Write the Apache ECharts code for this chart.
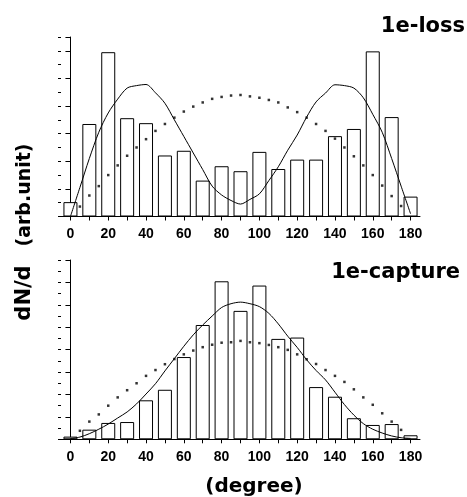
<!DOCTYPE html>
<html>
<head>
<meta charset="utf-8">
<script src="https://cdn.jsdelivr.net/npm/echarts@6/dist/echarts.min.js"></script>
<style>
html,body{margin:0;padding:0;background:#fff;}
#chart{width:467px;height:497px;}
</style>
</head>
<body>
<div id="chart"></div>
<script>
// Histogram bin centres (degree)
const binCenters = [0,10,20,30,40,50,60,70,80,90,100,110,120,130,140,150,160,170,180];
// Tick labels
const xTickLabels = [0,20,40,60,80,100,120,140,160,180];
const xTicks = [0,10,20,30,40,50,60,70,80,90,100,110,120,130,140,150,160,170,180];

// 1e-loss histogram (arb. unit)
const lossBars = [0.52,3.35,5.95,3.56,3.38,2.21,2.38,1.30,1.82,1.64,2.34,1.72,2.06,2.06,2.91,3.17,5.98,3.60,0.72];
// 1e-capture histogram
const captureBars = [0.12,0.43,0.73,0.77,1.74,2.21,3.67,5.10,7.05,5.73,6.86,4.48,4.54,2.33,1.90,0.94,0.64,0.68,0.18];

// Curve sample angles
const curveAngles = [0,5,10,15,20,25,30,35,40,45,50,55,60,65,70,75,80,85,90,95,100,105,110,115,120,125,130,135,140,145,150,155,160,165,170,175,180];
const lossSolid = [0,1.05,2.1,3.05,3.75,4.25,4.65,4.74,4.78,4.48,4.1,3.5,2.9,2.3,1.7,1.1,0.78,0.58,0.45,0.62,0.82,1.3,1.8,2.4,2.95,3.6,4.15,4.47,4.77,4.74,4.65,4.3,3.7,3.05,2.1,1.1,0.1];
const captureSolid = [0.03,0.1,0.25,0.45,0.68,0.95,1.22,1.58,2.02,2.48,3.05,3.6,4.15,4.66,5.1,5.5,5.88,6.05,6.12,6.05,5.92,5.62,5.15,4.6,4.1,3.55,3.07,2.65,2.1,1.55,1.08,0.7,0.45,0.28,0.15,0.07,0.04];

// Dotted curve sample angles
const dotAngles = [5,10,15,20,25,30,35,40,45,50,55,60,65,70,75,80,85,90,95,100,105,110,115,120,125,130,135,140,145,150,155,160,165,170,175];
const lossDots = [0.36,0.76,1.1,1.5,1.85,2.2,2.5,2.8,3.1,3.35,3.58,3.8,3.98,4.13,4.26,4.33,4.38,4.4,4.35,4.3,4.22,4.13,3.95,3.78,3.58,3.35,3.1,2.82,2.5,2.18,1.85,1.5,1.12,0.74,0.38];
const captureDots = [0.38,0.79,1.11,1.5,1.87,2.19,2.5,2.83,3.09,3.35,3.58,3.79,3.96,4.11,4.22,4.31,4.33,4.39,4.33,4.29,4.21,4.11,3.99,3.79,3.57,3.36,3.09,2.83,2.56,2.23,1.87,1.54,1.16,0.79,0.42];

const pair = (xs, ys) => xs.map((x, i) => [x, ys[i]]);

const chart = echarts.init(document.getElementById('chart'), null, {renderer: 'canvas'});

function xAxisFor(gi) {
  return {
    type: 'value', gridIndex: gi, min: -5, max: 185,
    axisLine: {show: true, lineStyle: {color: '#000', width: 1}},
    axisTick: {show: true, customValues: xTicks, length: 4, lineStyle: {color: '#000'}},
    axisLabel: {show: true, customValues: xTickLabels, margin: 11, color: '#000',
      fontFamily: 'Liberation Sans', fontWeight: 'bold', fontSize: 14},
    splitLine: {show: false}
  };
}
function yAxesFor(gi, max) {
  return [{
    type: 'value', gridIndex: gi, position: 'left', min: 0, max: max, interval: 1,
    axisLine: {show: true, lineStyle: {color: '#000', width: 1}},
    axisTick: {show: true, length: 5, lineStyle: {color: '#000'}},
    axisLabel: {show: false}, splitLine: {show: false}
  }, {
    type: 'value', gridIndex: gi, position: 'left', offset: 0, min: 0, max: max, interval: 0.5,
    axisLine: {show: false},
    axisTick: {show: true, length: 3, lineStyle: {color: '#000'}},
    axisLabel: {show: false}, splitLine: {show: false}
  }];
}

const barStyle = {color: '#fff', borderColor: '#000', borderWidth: 1};
const textFont = 'DejaVu Sans';

chart.setOption({
  animation: false,
  backgroundColor: '#fff',
  grid: [
    {left: 61, width: 359, top: 37, height: 179.5},
    {left: 61, width: 359, top: 260, height: 179.3}
  ],
  xAxis: [xAxisFor(0), xAxisFor(1)],
  yAxis: [...yAxesFor(0, 6.5), ...yAxesFor(1, 8)],
  series: [
    {type: 'bar', xAxisIndex: 0, yAxisIndex: 0, barWidth: 14, itemStyle: barStyle,
      data: pair(binCenters, lossBars)},
    {type: 'line', xAxisIndex: 0, yAxisIndex: 0, showSymbol: false, smooth: 0.3,
      lineStyle: {color: '#000', width: 1}, data: pair(curveAngles, lossSolid)},
    {type: 'scatter', xAxisIndex: 0, yAxisIndex: 0, symbol: 'rect', symbolSize: 2.5,
      itemStyle: {color: '#000'}, data: pair(dotAngles, lossDots)},
    {type: 'bar', xAxisIndex: 1, yAxisIndex: 2, barWidth: 14, itemStyle: barStyle,
      data: pair(binCenters, captureBars)},
    {type: 'line', xAxisIndex: 1, yAxisIndex: 2, showSymbol: false, smooth: 0.3,
      lineStyle: {color: '#000', width: 1}, data: pair(curveAngles, captureSolid)},
    {type: 'scatter', xAxisIndex: 1, yAxisIndex: 2, symbol: 'rect', symbolSize: 2.5,
      itemStyle: {color: '#000'}, data: pair(dotAngles, captureDots)}
  ],
  graphic: [
    {type: 'text', x: 465, y: 27, style: {text: '1e-loss', textAlign: 'right', textVerticalAlign: 'middle',
      font: 'bold 21px "' + textFont + '"', fill: '#000'}},
    {type: 'text', x: 460, y: 273, style: {text: '1e-capture', textAlign: 'right', textVerticalAlign: 'middle',
      font: 'bold 21px "' + textFont + '"', fill: '#000'}},
    {type: 'text', x: 254, y: 487, style: {text: '(degree)', textAlign: 'center', textVerticalAlign: 'middle',
      font: 'bold 20px "' + textFont + '"', fill: '#000'}},
    {type: 'text', x: 25, y: 195, rotation: Math.PI / 2, style: {text: '(arb.unit)', textAlign: 'center', textVerticalAlign: 'middle',
      font: 'bold 19px "' + textFont + '"', fill: '#000'}},
    {type: 'text', x: 25, y: 293, rotation: Math.PI / 2, style: {text: 'dN/d', textAlign: 'center', textVerticalAlign: 'middle',
      font: 'bold 21px "' + textFont + '"', fill: '#000'}}
  ]
});
</script>
</body>
</html>
